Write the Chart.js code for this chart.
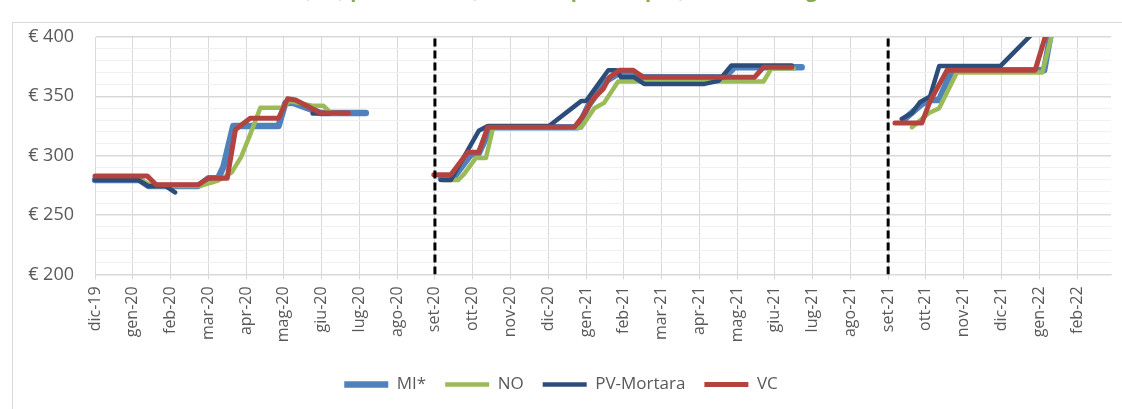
<!DOCTYPE html>
<html>
<head>
<meta charset="utf-8">
<script src="https://cdn.jsdelivr.net/npm/chart.js@4.4.1/dist/chart.umd.min.js"></script>
<style>
html, body { margin: 0; padding: 0; background: #fff; overflow: hidden; width: 1122px; height: 409px; }
#frame { position: absolute; left: 12px; top: 22px; width: 1200px; height: 500px; border: 1px solid #d9d9d9; }
#wrap { position: absolute; left: 0; top: -21px; width: 1122px; height: 430px; }
</style>
</head>
<body>
<div id="frame"></div>
<div id="wrap"><canvas id="c"></canvas></div>
<script>
// etichette asse x (una per mese, indice 0 = dic-19)
var monthLabels = ['dic-19', 'gen-20', 'feb-20', 'mar-20', 'apr-20', 'mag-20', 'giu-20', 'lug-20', 'ago-20',
    'set-20', 'ott-20', 'nov-20', 'dic-20', 'gen-21', 'feb-21', 'mar-21', 'apr-21', 'mag-21', 'giu-21',
    'lug-21', 'ago-21', 'set-21', 'ott-21', 'nov-21', 'dic-21', 'gen-22', 'feb-22'];
var yTickLabels = [200, 250, 300, 350, 400];
var seriesNames = ['MI*', 'NO', 'PV-Mortara', 'VC'];
var chartTitle = 'Risone (€/t) prezzi medi (min-max prezzi spot) nelle borse granarie';

// MI* (mese frazionario, prezzo)
var miMonths = [0, 1.19, 1.41, 2.73, 3.0, 3.26, 3.4, 3.66, 4.86, 5.04, 5.25, 5.97, 7.17, 8,
    9.16, 9.47, 9.95, 10.16, 10.48, 12.79, 13.06, 13.53, 13.85, 14.25, 14.52, 16.67, 16.93, 18.71, 20,
    21.44, 21.89, 22.08, 22.35, 22.69, 25.13, 25.29, 25.4];
var miPrices = [279.5, 279.5, 274.5, 274.5, 281, 281, 290.5, 325, 325, 344.5, 344.5, 336, 336, null,
    280.5, 280.5, 301, 302, 324, 324, 342, 363, 369, 369, 366, 366, 374.5, 374.5, null,
    331, 343.5, 347, 347, 372, 372, 400, 420];

// NO
var noMonths = [0, 1.19, 1.51, 2.79, 3.26, 3.62, 3.87, 4.11, 4.38, 4.96, 5.15, 5.79, 6.05, 6.24, 6.45, 8,
    9.24, 9.61, 9.77, 10.08, 10.35, 10.54, 12.87, 13.22, 13.48, 13.85, 17.7, 17.91, 18.5, 20,
    21.63, 22.08, 22.35, 22.82, 25.08, 25.32, 25.45];
var noPrices = [280, 280, 274.5, 274.5, 279, 286, 299, 318, 340.5, 340.5, 346, 342, 342, 336, 336, null,
    279.5, 279.5, 284.5, 298, 298, 323.5, 323.5, 340, 344.5, 362.5, 362.5, 373.5, 373.5, null,
    324, 336, 340, 370, 370, 400, 416];

// PV-Mortara
var pvMonths = [0, 1.14, 1.41, 1.86, 2.12, 3, 5.76, 6.2, 8,
    9.16, 9.42, 10.16, 10.4, 12.02, 12.87, 13.0, 13.59, 13.8, 13.93, 14.28, 14.54, 16.14, 16.51, 16.85, 18.45, 20,
    21.36, 21.63, 21.84, 22.11, 22.35, 23.97, 24.95];
var pvPrices = [279.5, 279.5, 274.5, 274.5, 269, null, 335.5, 335.5, null,
    279.5, 279.5, 321, 325, 325, 346, 346, 372, 372, 366, 366, 360.5, 360.5, 363, 376, 376, null,
    331, 336, 345, 350, 375.5, 375.5, 407];

// VC
var vcMonths = [0, 1.38, 1.62, 2.73, 3.0, 3.5, 3.72, 4.11, 4.86, 5.1, 5.31, 5.97, 6.71, 8,
    8.97, 9.42, 9.87, 10.16, 10.4, 12.69, 12.92, 13.19, 13.46, 13.62, 13.88, 14.25, 14.52, 17.46, 17.7, 18.45, 20,
    21.18, 21.89, 22.11, 22.56, 24.89, 25.32];
var vcPrices = [283, 283, 275.5, 275.5, 281, 281, 322, 331.5, 331.5, 348, 347, 336, 336, null,
    284, 284, 303, 303, 324, 324, 333.5, 348, 356.5, 366, 372, 372, 366, 366, 374.5, 374.5, null,
    327.5, 327.5, 346, 372, 372, 417];

// linee tratteggiate di inizio campagna
var dividerMonths = [9, 21];

var seriesColors = ['#4F81BD', '#9BBB59', '#2C4D7A', '#B3433F'];
var seriesWidths = [6.5, 4.5, 4.5, 5];

var yMin = yTickLabels[0];
var yMax = yTickLabels[yTickLabels.length - 1];

function points(xs, ys) {
    return xs.map(function (x, i) { return { x: x, y: ys[i] }; });
}

var seriesData = [
    points(miMonths, miPrices),
    points(noMonths, noPrices),
    points(pvMonths, pvPrices),
    points(vcMonths, vcPrices)
];

var datasets = seriesNames.map(function (name, i) {
    return {
        label: name,
        data: seriesData[i],
        borderColor: seriesColors[i],
        backgroundColor: seriesColors[i],
        borderWidth: seriesWidths[i],
        borderCapStyle: 'round',
        borderJoinStyle: 'round',
        pointRadius: 0,
        tension: 0,
        order: seriesNames.length - i,  // VC sopra a tutte
        clip: { left: 8, top: 0, right: 8, bottom: 8 }
    };
});

dividerMonths.forEach(function (m) {
    datasets.push({
        label: '',
        data: [{ x: m, y: yMin }, { x: m, y: yMax }],
        borderColor: '#000',
        borderWidth: 3,
        borderDash: [8, 4],
        pointRadius: 0,
        order: 0
    });
});

Chart.defaults.font.family = "'Open Sans', 'Noto Sans', sans-serif";
Chart.defaults.color = '#595959';

new Chart(document.getElementById('c'), {
    type: 'line',
    data: { datasets: datasets },
    options: {
        responsive: true,
        maintainAspectRatio: false,
        animation: false,
        layout: { padding: { top: 0, left: 0, right: 0, bottom: 6 } },
        plugins: {
            tooltip: { enabled: false },
            title: {
                display: true,
                text: chartTitle,
                color: '#86AC4B',
                font: { size: 20, weight: 'bold' },
                padding: { top: 0, bottom: 34 }
            },
            legend: {
                position: 'bottom',
                labels: {
                    usePointStyle: true,
                    pointStyle: 'line',
                    pointStyleWidth: 44,
                    boxWidth: 44,
                    padding: 19,
                    color: '#595959',
                    font: { size: 17 },
                    filter: function (item) { return item.datasetIndex < seriesNames.length; },
                    sort: function (a, b) { return a.datasetIndex - b.datasetIndex; }
                }
            }
        },
        scales: {
            x: {
                type: 'linear',
                min: 0,
                max: 26.9,
                afterFit: function (scale) { scale.height = 82.6; },
                grid: { color: '#d9d9d9', lineWidth: 1, tickLength: 5, tickColor: '#d9d9d9' },
                border: { color: '#d9d9d9' },
                ticks: {
                    stepSize: 1,
                    includeBounds: false,
                    autoSkip: false,
                    minRotation: 90,
                    maxRotation: 90,
                    padding: 7,
                    font: { size: 16 },
                    callback: function (v) {
                        return (Number.isInteger(v) && monthLabels[v] !== undefined) ? monthLabels[v] : null;
                    }
                }
            },
            y: {
                min: yMin,
                max: yMax,
                afterFit: function (scale) { scale.width = 95; },
                afterBuildTicks: function (scale) {
                    // griglia secondaria ogni 10 €
                    var t = [];
                    for (var v = yMin; v <= yMax; v += 10) t.push({ value: v });
                    scale.ticks = t;
                },
                border: { color: '#d9d9d9' },
                grid: {
                    drawTicks: false,
                    color: function (ctx) { return ctx.tick.value % 50 === 0 ? '#d9d9d9' : '#f0f0f0'; },
                    lineWidth: function (ctx) { return ctx.tick.value % 50 === 0 ? 1.5 : 1; }
                },
                ticks: {
                    autoSkip: false,
                    padding: 21,
                    font: { size: 18 },
                    callback: function (v) { return yTickLabels.indexOf(v) >= 0 ? '€ ' + v : ''; }
                }
            },
            yRight: {
                position: 'right',
                afterFit: function (scale) { scale.width = 11; },
                grid: { display: false },
                border: { display: false },
                ticks: { display: false }
            }
        }
    }
});
</script>
</body>
</html>
